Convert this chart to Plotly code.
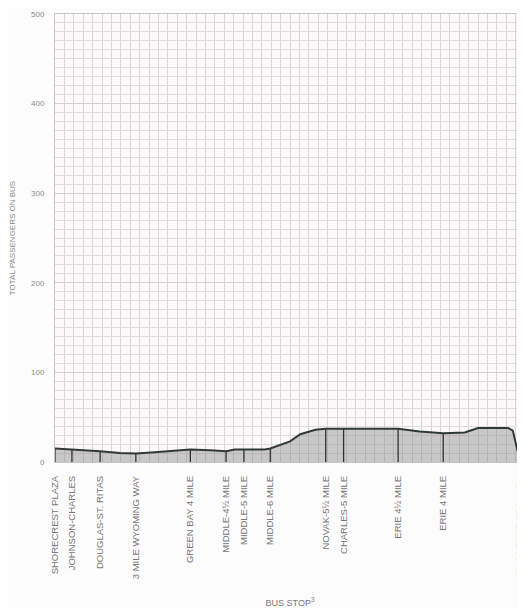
import plotly.graph_objects as go

# Bus stops along the route (position along the route, arbitrary distance units)
stops = ["SHORECREST PLAZA", "JOHNSON-CHARLES", "DOUGLAS-ST. RITAS", "3 MILE WYOMING WAY",
         "GREEN BAY 4 MILE", "MIDDLE-4½ MILE", "MIDDLE-5 MILE", "MIDDLE-6 MILE",
         "NOVAK-5½ MILE", "CHARLES-5 MILE", "ERIE 4½ MILE", "ERIE 4 MILE", "SHORECREST PLAZA "]
stop_pos = [0, 18, 48, 86, 144, 182, 201, 229, 288, 307, 365, 413, 495]
stop_load = [15, 14, 12, 9.5, 14, 12, 14, 15, 37, 37, 37, 32, 0]

# Passenger load profile read along the route
route_pos = [0, 18, 48, 69, 86, 106, 128, 144, 165, 182, 191, 201, 223, 229,
             250, 261, 277, 288, 307, 365, 388, 413, 436, 450, 482, 487, 495]
passengers = [15, 14, 12, 10, 9.5, 11, 13, 14, 13, 12, 14, 14, 14, 15,
              23, 31, 36, 37, 37, 37, 34, 32, 33, 38, 38, 35, 0]

fig = go.Figure()

# shaded area under the load curve
fig.add_trace(go.Scatter(x=route_pos, y=passengers, mode="lines", fill="tozeroy",
                         fillcolor="rgba(140,140,140,0.45)",
                         line=dict(color="#2f3a36", width=2), hoverinfo="skip"))

# vertical markers at each stop
vx, vy = [], []
for p, v in zip(stop_pos, stop_load):
    vx += [p, p, None]
    vy += [0, v, None]
fig.add_trace(go.Scatter(x=vx, y=vy, mode="lines", line=dict(color="#333333", width=1.3),
                         hoverinfo="skip", cliponaxis=False))

# page body has an 8px margin, so the figure is sized to fit inside it
fig.update_layout(
    width=517, height=600,
    margin=dict(l=47, r=0, t=6, b=146, autoexpand=False),
    paper_bgcolor="#fdfcfc", plot_bgcolor="#fbf9f9",
    showlegend=False,
    font=dict(family="Liberation Sans, Arial, sans-serif", color="#8a8a8a"),
)

fig.update_xaxes(
    range=[0, 500], tickmode="array", tickvals=stop_pos, ticktext=stops,
    tickangle=-90, tickfont=dict(size=9.5, color="#777777"), ticklabeloverflow="allow",
    showgrid=False, zeroline=False, automargin=False,
    showline=True, linecolor="#c8c4c4", linewidth=1, mirror=True,
    ticks="outside", ticklen=9, tickcolor="rgba(0,0,0,0)",
    minor=dict(dtick=10, tick0=0, showgrid=True, gridcolor="#dcd3d3", gridwidth=1),
    title=dict(text="BUS STOP<sup>3</sup>", font=dict(size=9, color="#777777"), standoff=34),
)
fig.update_yaxes(
    range=[0, 500], dtick=100, tickfont=dict(size=8, color="#8a8a8a"),
    showgrid=True, gridcolor="#d3cfcf", gridwidth=1, zeroline=False, automargin=False,
    showline=True, linecolor="#c8c4c4", linewidth=1, mirror=True,
    ticks="outside", ticklen=8, tickcolor="rgba(0,0,0,0)",
    minor=dict(dtick=10, showgrid=True, gridcolor="#e3d9d9", gridwidth=1),
    title=dict(text="TOTAL PASSENGERS ON BUS", font=dict(size=8, color="#8a8a8a"), standoff=21),
)

fig.write_html("out.html")
